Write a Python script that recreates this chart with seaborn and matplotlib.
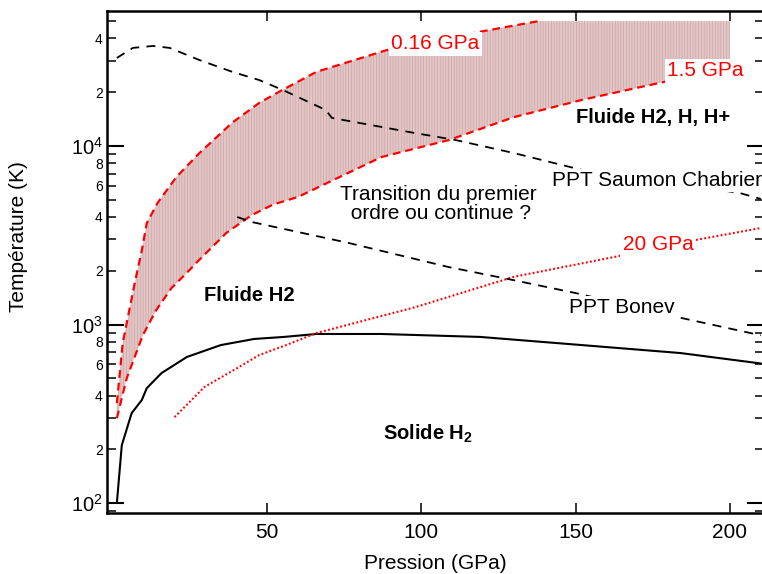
#diagramme de phase de l'hydrogène (P, T)

import matplotlib
matplotlib.use("Agg")
import matplotlib.pyplot as plt
from matplotlib.ticker import LogLocator, FuncFormatter, LogFormatterSciNotation
import seaborn as sns

# courbe de fusion (solide / fluide H2)
P_fusion = [1.3, 2.9, 6.1, 9.4, 11, 15.8, 24, 35, 45.8, 55.5, 66, 87, 119, 152, 184, 210]
T_fusion = [100, 211, 319, 378, 440, 535, 658, 767, 830, 852, 885, 885, 852, 767, 692, 605]

# isobare 0.16 GPa
P_016 = [1.3, 3.2, 7.1, 9.4, 11, 14.5, 20.6, 28, 38.7, 47.4, 55, 66, 89, 119, 138]
T_016 = [363, 787, 1710, 2610, 3700, 4800, 6700, 9100, 13500, 17400, 20600, 26000, 34500, 43600, 50000]

# isobare 1.5 GPa
P_15 = [1.3, 4.5, 9.7, 14, 19, 24, 28, 36.8, 45, 52, 60, 87, 109, 130, 152, 179]
T_15 = [299, 500, 870, 1200, 1600, 1950, 2300, 3260, 4100, 4700, 5180, 8660, 10800, 14500, 18100, 22900]

# isobare 20 GPa
P_20 = [20, 29.7, 40.3, 47.4, 55.5, 66, 98, 130, 162.6, 188.7, 210]
T_20 = [303, 447, 570, 674, 759, 896, 1250, 1850, 2390, 2970, 3470]

# PPT Saumon Chabrier
P_saumon = [1.3, 6.5, 13, 18.4, 28, 38.7, 47.4, 55, 69, 71, 98, 111, 130, 152, 203, 210]
T_saumon = [31100, 35400, 36300, 35400, 30300, 26000, 23400, 20600, 15900, 14350, 11800, 10800, 9120, 7340, 5460, 5050]

# PPT Bonev
P_bonev = [40.3, 45, 76.5, 108.7, 130, 150, 183, 210]
T_bonev = [4000, 3750, 2860, 2100, 1770, 1500, 1100, 870]

# zone hachurée entre les deux isobares
P_zone_haut = [1.0] + P_016 + [200]
T_zone_haut = [100] + T_016 + [50000]
P_zone_bas = [1.0] + P_15 + [200]
T_zone_bas = [100] + T_15 + [27000]

sns.set_style("ticks")
plt.rcParams['font.family'] = ['Liberation Sans', 'DejaVu Sans']
plt.rcParams['mathtext.fontset'] = 'custom'
plt.rcParams['mathtext.rm'] = 'Liberation Sans'
plt.rcParams['mathtext.bf'] = 'Liberation Sans:bold'
plt.rcParams['hatch.linewidth'] = 0.5
plt.rcParams['text.color'] = 'black'
plt.rcParams['axes.labelcolor'] = 'black'
plt.rcParams['xtick.color'] = 'black'
plt.rcParams['ytick.color'] = 'black'

fig = plt.figure(figsize=(7.62, 5.74), dpi=100)
ax = fig.add_axes([0.1404, 0.1063, 0.862, 0.8746])

# zone
ax.fill(P_zone_haut + P_zone_bas[::-1], T_zone_haut + T_zone_bas[::-1],
        facecolor='#e2c6c6', edgecolor='#cfa6a6', hatch='||||||', linewidth=0, zorder=1)

sns.lineplot(x=P_fusion, y=T_fusion, sort=False, color='black', linewidth=1.5, ax=ax, zorder=3)
sns.lineplot(x=P_016, y=T_016, sort=False, color='red', linewidth=1.6,
             linestyle=(0, (3.5, 2.2)), ax=ax, zorder=3)
sns.lineplot(x=P_15, y=T_15, sort=False, color='red', linewidth=1.6,
             linestyle=(0, (3.5, 2.2)), ax=ax, zorder=3)
sns.lineplot(x=P_20, y=T_20, sort=False, color='red', linewidth=1.5,
             linestyle=(0, (0.9, 1.1)), ax=ax, zorder=3)
sns.lineplot(x=P_saumon, y=T_saumon, sort=False, color='black', linewidth=1.3,
             linestyle=(0, (5, 4)), ax=ax, zorder=3)
sns.lineplot(x=P_bonev, y=T_bonev, sort=False, color='black', linewidth=1.3,
             linestyle=(0, (5, 4)), ax=ax, zorder=3)

ax.set_yscale('log')
ax.set_xlim(-1.9, 211)
ax.set_ylim(88, 57000)

# textes
boite = dict(facecolor='white', edgecolor='none', pad=1.5)
fs = 15
ax.text(90.3, 37250, '0.16 GPa', color='red', fontsize=fs, va='center', bbox=boite, zorder=5)
ax.text(179.7, 26300, '1.5 GPa', color='red', fontsize=fs, va='center', bbox=boite, zorder=5)
ax.text(150, 14350, 'Fluide H2, H, H+', fontsize=fs - 0.5, fontweight='bold', va='center', zorder=5)
ax.text(142.4, 6370, 'PPT Saumon Chabrier', fontsize=fs, va='center', bbox=boite, zorder=5)
ax.text(105.5, 4730, 'Transition du premier\n ordre ou continue ?', fontsize=fs, ha='center',
        va='center', multialignment='center', linespacing=1.05, zorder=5)
ax.text(165.2, 2790, '20 GPa', color='red', fontsize=fs, va='center', bbox=boite, zorder=5)
ax.text(148, 1250, 'PPT Bonev', fontsize=fs, va='center', bbox=boite, zorder=5)
ax.text(29.7, 1450, 'Fluide H2', fontsize=fs - 0.5, fontweight='bold', va='center', zorder=5)
ax.text(87.7, 244, r'Solide H$_\mathbf{2}$', fontsize=fs - 0.5, fontweight='bold', va='center', zorder=5)

# axes
ax.set_xticks([50, 100, 150, 200])
ax.yaxis.set_major_locator(LogLocator(base=10, numticks=10))
ax.yaxis.set_minor_locator(LogLocator(base=10, subs=range(2, 10), numticks=20))
ax.yaxis.set_major_formatter(LogFormatterSciNotation())


def etiquette_mineure(v, pos):
    m = round(v / 10 ** int(f"{v:e}".split('e')[1]))
    return str(m) if m in (2, 4, 6, 8) else ''


ax.yaxis.set_minor_formatter(FuncFormatter(etiquette_mineure))
ax.tick_params(which='both', direction='in', top=True, right=True, color='black')
ax.tick_params(axis='y', which='major', length=12, width=1.5, labelsize=14.5, pad=3)
ax.tick_params(axis='y', which='minor', length=6.5, width=1.1, labelsize=10, pad=3)
ax.tick_params(axis='x', which='major', length=7, width=1.1, labelsize=15, pad=7)
for s in ax.spines.values():
    s.set_linewidth(1.8)
    s.set_color('black')

ax.set_xlabel('Pression (GPa)', fontsize=15)
ax.set_ylabel('Température (K)', fontsize=15)
ax.yaxis.set_label_coords(-0.121, 0.55)
ax.xaxis.set_label_coords(0.5, -0.082)

plt.savefig('out.png', dpi=100)
